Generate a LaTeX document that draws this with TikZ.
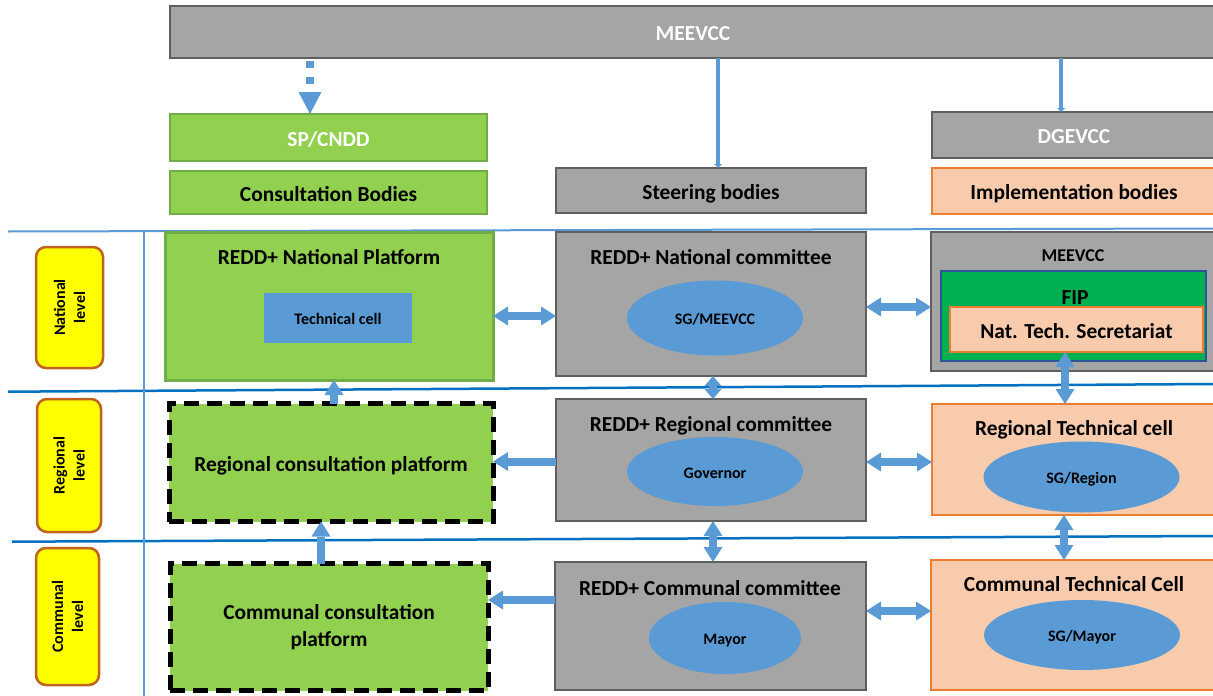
\documentclass[tikz,border=0pt]{standalone}
\usepackage{fontspec}
\setmainfont{Carlito}
\usetikzlibrary{calc,arrows.meta,shapes.geometric}
\definecolor{gfill}{HTML}{A5A5A5}
\definecolor{gdraw}{HTML}{5F5F5F}
\definecolor{grfill}{HTML}{92D050}
\definecolor{grdraw}{HTML}{70AD47}
\definecolor{ofill}{HTML}{F8CBAD}
\definecolor{odraw}{HTML}{ED7D31}
\definecolor{ablue}{HTML}{5B9BD5}
\definecolor{lblue}{HTML}{0070C0}
\definecolor{fipg}{HTML}{00B050}
\definecolor{fipb}{HTML}{2F5597}
\definecolor{lvly}{HTML}{FFFF00}
\definecolor{lvlb}{HTML}{C0631F}
\begin{document}
\begin{tikzpicture}[x=1pt,y=-1pt,
 bx/.style={inner sep=0pt, outer sep=0pt, text height=19pt, text depth=2pt, font=\bfseries\fontsize{21.4}{25}\selectfont},
 graybox/.style={bx, draw=gdraw, fill=gfill, line width=2.5pt},
 greenbox/.style={bx, draw=grdraw, fill=grfill, line width=2pt},
 orangebox/.style={bx, draw=odraw, fill=ofill, line width=2pt},
 dashbox/.style={bx, draw=black, fill=grfill, line width=5pt, dash pattern=on 15pt off 8pt},
 ell/.style={bx, ellipse, fill=ablue, text height=14pt, text depth=1pt, font=\bfseries\fontsize{16}{19}\selectfont},
 ttl/.style={bx},
 lvlbox/.style={bx, draw=lvlb, fill=lvly, line width=2.5pt, rounded corners=10pt, rotate=90, align=center, text height=, text depth=, font=\bfseries\fontsize{16}{20}\selectfont},
 sepline/.style={line width=2.5pt, draw=lblue},
 dbl/.style={draw=ablue, line width=8pt, {Triangle[width=19pt,length=15pt,line width=0pt]}-{Triangle[width=19pt,length=15pt,line width=0pt]}},
 sgl/.style={draw=ablue, line width=8pt, -{Triangle[width=19pt,length=15pt,line width=0pt]}},
 thinarr/.style={draw=ablue, line width=4pt, -{Triangle[width=8pt,length=4pt,line width=0pt]}},
]
\useasboundingbox (0,0) rectangle (1213,696);
\clip (0,0) rectangle (1213,696);

% separator lines
\draw[line width=2pt, draw=ablue] (8,231.5) -- (1213,228.5);
\draw[sepline] (8,391.7) -- (1213,384);
\draw[sepline] (12,541.7) -- (1213,536);
\draw[line width=2pt, draw=ablue] (143.5,231) -- (143.5,696);

% header row
\node[graybox, minimum width=1046pt, minimum height=52pt, text=white] (top) at (693,32) {MEEVCC};
\node[greenbox, minimum width=317pt, minimum height=47pt, text=white] (spcndd) at (328.5,137.5) {SP/CNDD};
\node[greenbox, minimum width=317pt, minimum height=43pt] (consult) at (328.5,192.5) {Consultation Bodies};
\node[graybox, minimum width=310pt, minimum height=45pt] (steer) at (711,190.5) {Steering bodies};
\node[graybox, minimum width=284pt, minimum height=46pt, text=white] (dgevcc) at (1074,135) {DGEVCC};
\node[orangebox, minimum width=284pt, minimum height=46pt] (impl) at (1074,191) {Implementation bodies};

% level labels
\node[lvlbox, minimum width=121pt, minimum height=67pt] (natlvl) at (69.5,307.5) {National\\level};
\node[lvlbox, minimum width=133pt, minimum height=64pt] (reglvl) at (69,465.5) {Regional\\level};
\node[lvlbox, minimum width=137pt, minimum height=63pt] (comlvl) at (67.5,616.5) {Communal\\level};

% national row
\node[greenbox, line width=3pt, minimum width=328pt, minimum height=148pt] (natplat) at (329,306) {};
\node[ttl] (natplatT) at (329,255.5) {REDD+ National Platform};
\node[bx, fill=ablue, minimum width=148pt, minimum height=50pt, text height=14pt, text depth=1pt, font=\bfseries\fontsize{16}{19}\selectfont] (techcell) at (338,318) {Technical cell};

\node[graybox, minimum width=310pt, minimum height=144pt] (natcom) at (711,304) {};
\node[ttl] (natcomT) at (711,255.5) {REDD+ National committee};
\node[ell, minimum width=176pt, minimum height=75pt] (sgm) at (715,318) {SG/MEEVCC};

\node[graybox, minimum width=285pt, minimum height=139pt] (meevccR) at (1073.5,301.5) {};
\node[ttl, text height=16pt, font=\bfseries\fontsize{18}{22}\selectfont] (meevccRT) at (1073,254) {MEEVCC};
\node[bx, draw=fipb, fill=fipg, line width=2.5pt, minimum width=265pt, minimum height=90pt] (fip) at (1073.5,316) {};
\node[ttl] (fipT) at (1075,295.5) {FIP};
\node[orangebox, minimum width=253pt, minimum height=45pt] (nts) at (1076.5,329.5) {Nat. Tech. Secretariat};

% regional row
\node[dashbox, minimum width=324pt, minimum height=118pt] (regplat) at (331,462.5) {Regional consultation platform};
\node[graybox, minimum width=310pt, minimum height=122pt] (regcom) at (711,460) {};
\node[ttl] (regcomT) at (711,423) {REDD+ Regional committee};
\node[ell, minimum width=176pt, minimum height=69pt] (gov) at (715,471.5) {Governor};
\node[orangebox, minimum width=284pt, minimum height=111pt] (regtc) at (1074,459.5) {};
\node[ttl] (regtcT) at (1074,427) {Regional Technical cell};
\node[ell, minimum width=196pt, minimum height=71pt] (sgr) at (1081.5,477) {SG/Region};

% communal row
\node[dashbox, minimum width=318pt, minimum height=127pt, align=center, text height=, text depth=, font=\bfseries\fontsize{21.4}{27}\selectfont] (complat) at (329,627) {Communal consultation\\platform};
\node[graybox, minimum width=311pt, minimum height=128pt] (comcom) at (710.5,626) {};
\node[ttl] (comcomT) at (710,587) {REDD+ Communal committee};
\node[ell, minimum width=152pt, minimum height=72pt] (mayor) at (725,638) {Mayor};
\node[orangebox, minimum width=285pt, minimum height=130pt] (comtc) at (1073.5,625) {};
\node[ttl] (comtcT) at (1074,583) {Communal Technical Cell};
\node[ell, minimum width=196pt, minimum height=70pt] (sgmay) at (1082,635) {SG/Mayor};

% connectors from top
\draw[draw=ablue, line width=8pt, dash pattern=on 7pt off 9pt, -{Triangle[width=23pt,length=22pt,line width=0pt]}]
  ($(top.south -| 310,0)+(0,3)$) -- (spcndd.north -| 310,0);
\draw[thinarr] (top.south -| 718,0) -- (steer.north -| 718,0);
\draw[thinarr] (top.south -| 1061,0) -- (dgevcc.north -| 1061,0);

% horizontal connectors
\draw[dbl] (natplat.east |- 0,316) -- (natcom.west |- 0,316);
\draw[dbl] (natcom.east |- 0,307) -- (meevccR.west |- 0,307);
\draw[sgl] (regcom.west |- 0,461.5) -- (regplat.east |- 0,461.5);
\draw[dbl] (regcom.east |- 0,462) -- (regtc.west |- 0,462);
\draw[sgl] (comcom.west |- 0,600) -- (complat.east |- 0,600);
\draw[dbl] (comcom.east |- 0,611) -- (comtc.west |- 0,611);

% vertical connectors
\draw[dbl, {Triangle[width=17pt,length=10pt,line width=0pt]}-{Triangle[width=17pt,length=10pt,line width=0pt]}] (natcom.south -| 713,0) -- (regcom.north -| 713,0);
\draw[dbl] (regcom.south -| 713,0) -- (comcom.north -| 713,0);
\draw[sgl] (regplat.north -| 334,0) -- (natplat.south -| 334,0);
\draw[sgl] (complat.north -| 321,0) -- (regplat.south -| 321,0);
\draw[dbl] (nts.south -| 1065,0) -- (regtc.north -| 1065,0);
\draw[dbl] (regtc.south -| 1064,0) -- (comtc.north -| 1064,0);
\end{tikzpicture}
\end{document}
